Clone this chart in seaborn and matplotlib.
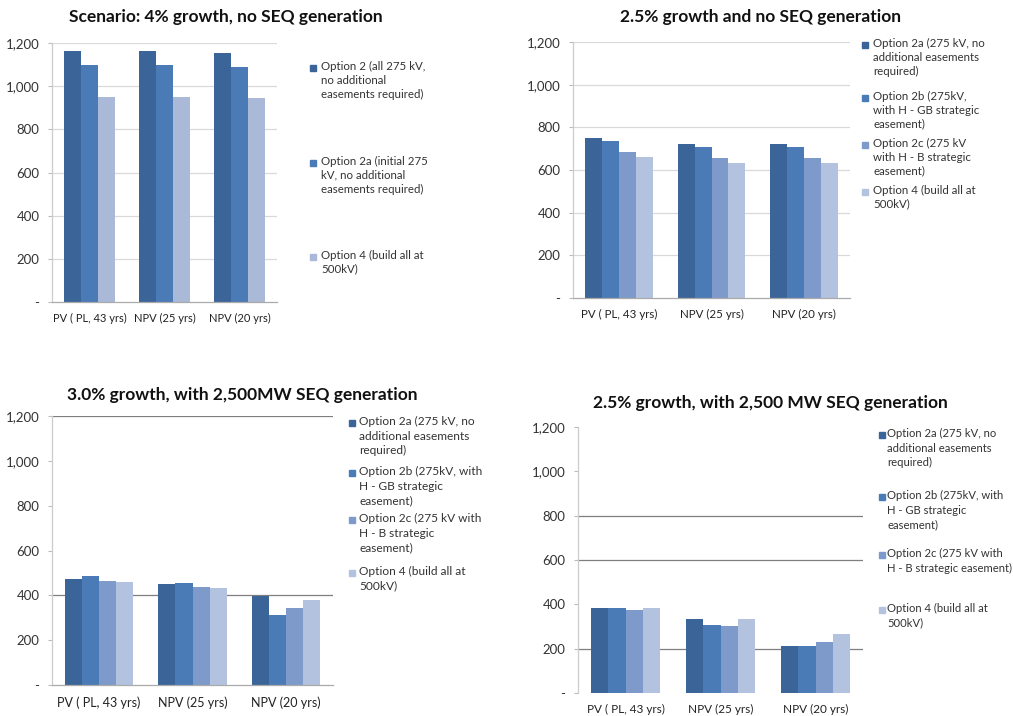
import matplotlib
matplotlib.use("Agg")
import matplotlib.pyplot as plt
from matplotlib.patches import Rectangle
import seaborn as sns
import pandas as pd

sns.set_theme(style="white")
plt.rcParams["font.family"] = ["Lato", "DejaVu Sans"]

categories = ["PV ( PL, 43 yrs)", "NPV (25 yrs)", "NPV (20 yrs)"]

# Scenario: 4% growth, no SEQ generation
s1_options = ["Option 2", "Option 2a", "Option 4"]
s1_option2 = [1163, 1163, 1153]
s1_option2a = [1097, 1097, 1087]
s1_option4 = [952, 952, 944]
s1_legend = ["Option 2 (all 275 kV,\nno additional\neasements required)",
             "Option 2a (initial 275\nkV, no additional\neasements required)",
             "Option 4 (build all at\n500kV)"]

# 2.5% growth and no SEQ generation
s2_options = ["Option 2a", "Option 2b", "Option 2c", "Option 4"]
s2_option2a = [750, 722, 722]
s2_option2b = [737, 708, 708]
s2_option2c = [686, 656, 656]
s2_option4 = [662, 634, 634]
s2_legend = ["Option 2a (275 kV, no\nadditional easements\nrequired)",
             "Option 2b (275kV,\nwith H - GB strategic\neasement)",
             "Option 2c (275 kV\nwith H - B strategic\neasement)",
             "Option 4 (build all at\n500kV)"]

# 3.0% growth, with 2,500MW SEQ generation
s3_option2a = [474, 451, 395]
s3_option2b = [486, 455, 312]
s3_option2c = [464, 438, 345]
s3_option4 = [461, 433, 380]
s3_legend = ["Option 2a (275 kV, no\nadditional easements\nrequired)",
             "Option 2b (275kV, with\nH - GB strategic\neasement)",
             "Option 2c (275 kV with\nH - B strategic\neasement)",
             "Option 4 (build all at\n500kV)"]

# 2.5% growth, with 2,500 MW SEQ generation
s4_option2a = [382, 334, 213]
s4_option2b = [382, 307, 213]
s4_option2c = [375, 303, 231]
s4_option4 = [382, 334, 267]
s4_legend = ["Option 2a (275 kV, no\nadditional easements\nrequired)",
             "Option 2b (275kV, with\nH - GB strategic\neasement)",
             "Option 2c (275 kV with\nH - B strategic easement)",
             "Option 4 (build all at\n500kV)"]

yticks = [0, 200, 400, 600, 800, 1000, 1200]
ytick_labels = ["-", "200", "400", "600", "800", "1,000", "1,200"]

pal3 = ["#3B6599", "#4A7BB7", "#AAB9D7"]
pal4 = ["#3B6599", "#4A7BB7", "#7E9ACA", "#B3C3DF"]

W, H = 1013, 716
fig = plt.figure(figsize=(W / 100, H / 100), dpi=100)


def px_axes(left, right, top, bottom):
    return fig.add_axes([left / W, 1 - bottom / H, (right - left) / W, (bottom - top) / H])


def long_frame(options, series):
    rows = []
    for opt, vals in zip(options, series):
        for cat, v in zip(categories, vals):
            rows.append({"category": cat, "option": opt, "value": v})
    return pd.DataFrame(rows)


def panel(box, options, series, palette, width, title, title_xy, grid_levels,
          grid_color, cat_size, show_bottom=True):
    ax = px_axes(*box)
    df = long_frame(options, series)
    sns.barplot(data=df, x="category", y="value", hue="option", palette=palette,
                width=width, saturation=1, linewidth=0, legend=False, ax=ax)
    ax.set_ylim(0, 1200)
    ax.set_xlim(-0.5, 2.5)
    ax.set_xlabel("")
    ax.set_ylabel("")
    ax.set_yticks(yticks)
    ax.set_yticklabels(ytick_labels, fontsize=9.5, color="#333333")
    ax.set_xticks(range(3))
    ax.set_xticklabels(categories, fontsize=cat_size, color="#222222")
    ax.set_xticks([-0.5, 0.5, 1.5, 2.5], minor=True)
    ax.tick_params(axis="x", which="major", length=0, pad=8)
    ax.tick_params(axis="x", which="minor", length=4, color="#bbbbbb", width=0.8)
    ax.tick_params(axis="y", length=3, color="#bbbbbb", width=0.8, pad=6, left=True)
    for lv in grid_levels:
        ax.axhline(lv, color=grid_color, lw=0.9, zorder=0)
    for s in ["top", "right"]:
        ax.spines[s].set_visible(False)
    ax.spines["left"].set_color("#cccccc")
    ax.spines["left"].set_linewidth(0.9)
    ax.spines["bottom"].set_color("#aaaaaa" if show_bottom else "none")
    ax.spines["bottom"].set_linewidth(0.9)
    fig.text(title_xy[0] / W, 1 - title_xy[1] / H, title, ha="center", va="center",
             fontsize=12.5, fontweight="bold", color="#111111")
    return ax


def legend_block(x_sq, x_txt, ys, labels, colors, line_px, size=8.3):
    for y, lab, c in zip(ys, labels, colors):
        fig.patches.append(Rectangle(((x_sq - 3) / W, 1 - (y + 3) / H), 6 / W, 6 / H,
                                     transform=fig.transFigure, color=c))
        fig.text(x_txt / W, 1 - (y - 7) / H, lab, ha="left", va="top", fontsize=size,
                 color="#333333", linespacing=line_px / 11.5)


panel((52, 277, 43, 302), s1_options, [s1_option2, s1_option2a, s1_option4], pal3, 0.67,
      "Scenario: 4% growth, no SEQ generation", (226, 17),
      [200, 400, 600, 800, 1000, 1200], "#d9d9d9", 8.0)
legend_block(313, 321, [68, 163, 257], s1_legend, pal3, 15)

panel((573, 850, 42, 298), s2_options, [s2_option2a, s2_option2b, s2_option2c, s2_option4],
      pal4, 0.73, "2.5% growth and no SEQ generation", (760, 17),
      [200, 400, 600, 800, 1000, 1200], "#d9d9d9", 8.3)
legend_block(865, 873, [45, 98, 145, 192], s2_legend, pal4, 15)

panel((52, 333, 416, 685), s2_options, [s3_option2a, s3_option2b, s3_option2c, s3_option4],
      pal4, 0.73, "3.0% growth, with 2,500MW SEQ generation", (242, 395),
      [400, 1200], "#7f7f7f", 9.0)
legend_block(352, 359, [423, 473, 520, 573], s3_legend, pal4, 16, size=8.6)

panel((578, 863, 427, 693), s2_options, [s4_option2a, s4_option2b, s4_option2c, s4_option4],
      pal4, 0.73, "2.5% growth, with 2,500 MW SEQ generation", (770, 403),
      [200, 600, 800], "#7f7f7f", 8.5, show_bottom=False)
legend_block(882, 887, [435, 497, 555, 610], s4_legend, pal4, 16, size=8.1)

fig.savefig("out.png", dpi=100, facecolor="white")
